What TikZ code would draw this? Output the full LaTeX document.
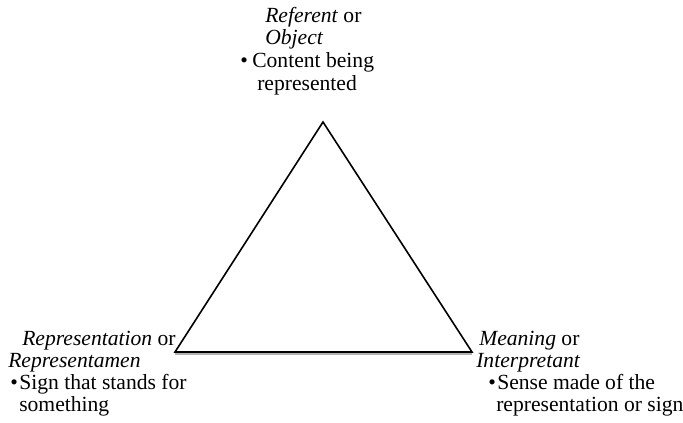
\documentclass[tikz,border=0pt]{standalone}
\usepackage{fontspec}
\setmainfont{Liberation Serif}
\begin{document}
\begin{tikzpicture}[x=0.75pt,y=-0.75pt,
  txt/.style={anchor=base west,inner sep=0pt,font=\fontsize{16.2}{19}\selectfont},
  edge/.style={draw=black,line width=1.2pt,line join=miter}]
\useasboundingbox (0,0) rectangle (683,422);
\coordinate (A) at (323,122);
\coordinate (L) at (175,352);
\coordinate (R) at (472,352);
\draw[gray!60,line width=1.5pt] ([yshift=-1.6pt]L) -- ([yshift=-1.6pt]R);
\draw[edge] (L) -- (A) -- (R) -- cycle;
% top
\node[txt] (t1) at (265,22) {\textit{Referent} or};
\node[txt] (t2) at (265,44) {\textit{Object}};
\node[txt] (t3) at (240,67) {\textbullet};
\node[txt] (t4) at (252,67) {Content being};
\node[txt] (t5) at (257,90) {represented};
% left
\node[txt] (l1) at (22,345) {\textit{Representation} or};
\node[txt] (l2) at (8,367) {\textit{Representamen}};
\node[txt] (l3) at (10,389) {\textbullet};
\node[txt] (l4) at (19,389) {Sign that stands for};
\node[txt] (l5) at (19,411) {something};
% right
\node[txt] (r1) at (479,345) {\textit{Meaning} or};
\node[txt] (r2) at (476,367) {\textit{Interpretant}};
\node[txt] (r3) at (488,389) {\textbullet};
\node[txt] (r4) at (497,389) {Sense made of the};
\node[txt] (r5) at (496,411) {representation or sign};
\end{tikzpicture}
\end{document}
